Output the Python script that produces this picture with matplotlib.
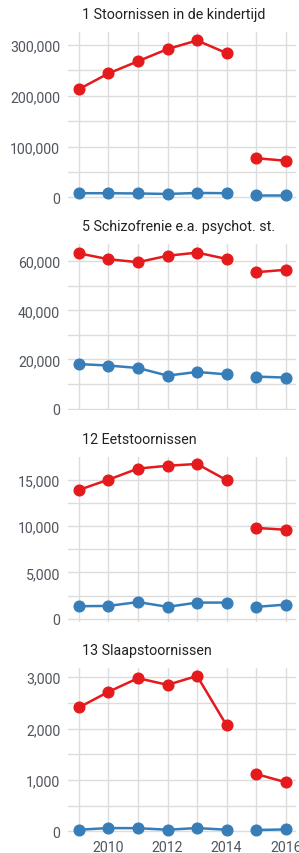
import matplotlib
matplotlib.use('Agg')
import matplotlib.pyplot as plt
import numpy as np
from matplotlib.ticker import FuncFormatter, MultipleLocator

plt.rcParams['font.family'] = ['Roboto', 'DejaVu Sans']

years = [2009, 2010, 2011, 2012, 2013, 2014, 2015, 2016]

titles = ['1 Stoornissen in de kindertijd',
          '5 Schizofrenie e.a. psychot. st.',
          '12 Eetstoornissen',
          '13 Slaapstoornissen']

red_1 = [213000, 244000, 268000, 292000, 309000, 284000, 77000, 72000]
blue_1 = [8000, 8000, 7500, 6500, 8500, 8000, 4000, 4000]

red_5 = [63200, 60800, 59600, 62200, 63500, 60900, 55500, 56500]
blue_5 = [18100, 17500, 16500, 13400, 14900, 13900, 13000, 12600]

red_12 = [13900, 15000, 16200, 16500, 16700, 14950, 9800, 9600]
blue_12 = [1350, 1380, 1800, 1280, 1740, 1740, 1280, 1520]

red_13 = [2410, 2714, 2980, 2850, 3023, 2062, 1114, 955]
blue_13 = [30, 62, 60, 30, 62, 30, 25, 35]

panels = [(red_1, blue_1), (red_5, blue_5), (red_12, blue_12), (red_13, blue_13)]
major_steps = [100000, 20000, 5000, 1000]
ylims = [(-3400, 325600), (-400, 67000), (-300, 17480), (-30, 3178)]
# axes boxes in pixels from top: (top, bottom)
boxes = [(33, 200), (245, 410.5), (457.7, 622.5), (669, 833.8)]
title_y = [15, 227, 440, 651]

W, H = 299, 854
fig = plt.figure(figsize=(W / 100, H / 100), dpi=100)

RED = '#e41a1c'
BLUE = '#377eb8'
GRID = '#dcdcdc'
x = np.array(years)
first = x <= 2014
second = x > 2014

for i, ((red, blue), step, ylim, (top, bot)) in enumerate(zip(panels, major_steps, ylims, boxes)):
    left, right = 68.3, 296
    ax = fig.add_axes([left / W, 1 - bot / H, (right - left) / W, (bot - top) / H])
    for vals, col in ((blue, BLUE), (red, RED)):
        v = np.array(vals, dtype=float)
        for m in (first, second):
            ax.plot(x[m], v[m], color=col, lw=1.8, marker='o', ms=7.7,
                    clip_on=False, zorder=3)
    ax.set_xlim(2008.64, 2016.35)
    ax.set_ylim(*ylim)
    ax.yaxis.set_major_locator(MultipleLocator(step))
    ax.yaxis.set_minor_locator(MultipleLocator(step / 2))
    ax.xaxis.set_major_locator(MultipleLocator(2))
    ax.xaxis.set_minor_locator(MultipleLocator(1))
    ax.yaxis.set_major_formatter(FuncFormatter(lambda v, p: f'{int(round(v)):,}'))
    ax.grid(True, which='both', color=GRID, lw=1.0, zorder=0)
    ax.set_axisbelow(True)
    for s in ax.spines.values():
        s.set_visible(False)
    ax.tick_params(which='both', length=0, labelsize=10.2, labelcolor='#50565e', pad=5.8)
    if i < 3:
        ax.tick_params(axis='x', labelbottom=False)
    else:
        ax.tick_params(axis='x', pad=5)
    fig.text(82 / W, 1 - title_y[i] / H, titles[i], ha='left', va='center',
             fontsize=10.3, color='#222222')

fig.savefig('out.png', dpi=100)
